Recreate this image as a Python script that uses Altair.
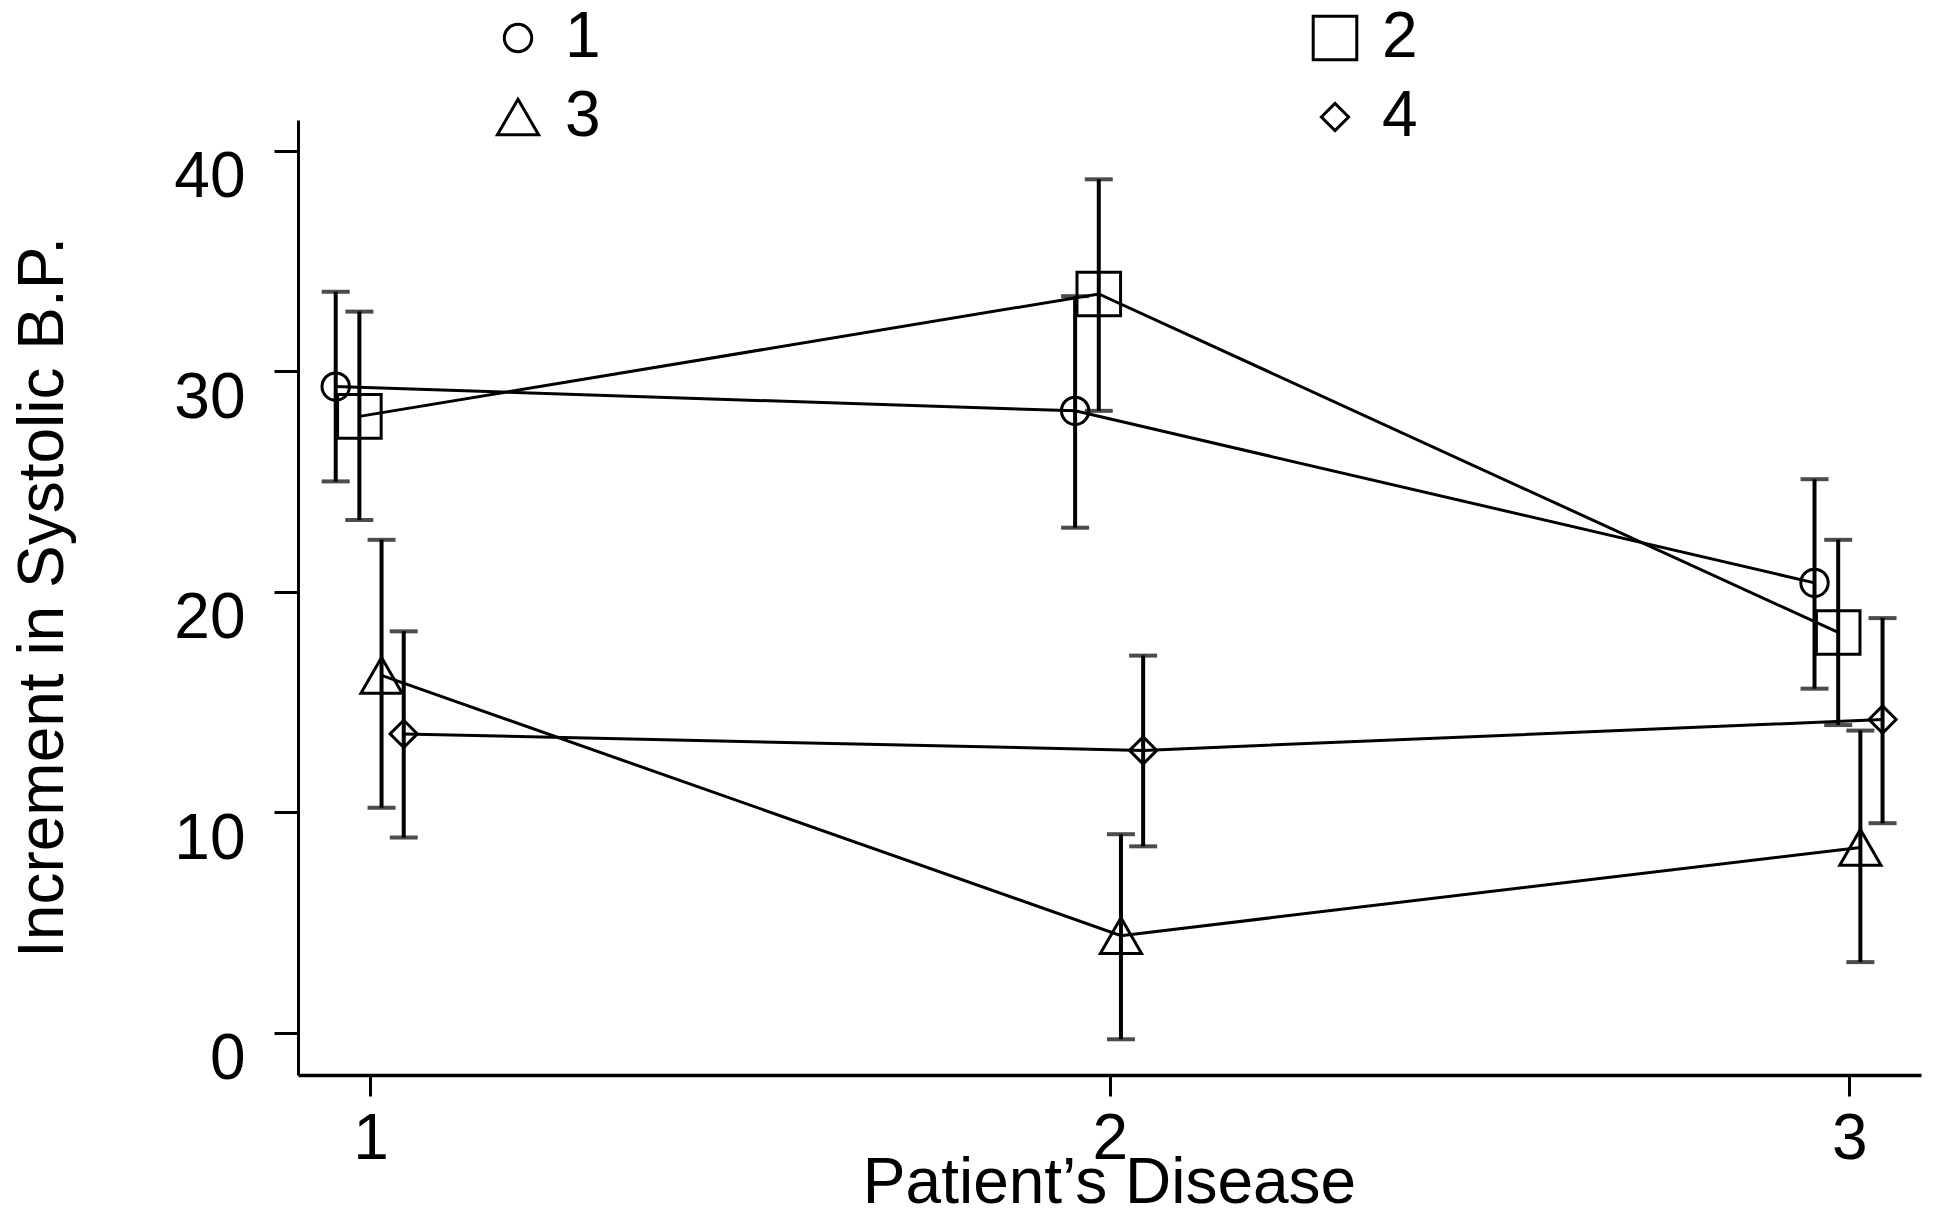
import altair as alt
import pandas as pd

# ---- data ----
groups = ["1", "2", "3", "4"]
legend_order = ["1", "3", "2", "4"]
disease = [1, 2, 3]
dodge = [-0.047, -0.015, 0.015, 0.045]

means = {
    "1": [29.3, 28.2, 20.4],
    "2": [27.95, 33.5, 18.15],
    "3": [16.2, 4.4, 8.4],
    "4": [13.55, 12.8, 14.2],
}
lows = {
    "1": [25.0, 22.9, 15.6],
    "2": [23.25, 28.2, 13.95],
    "3": [10.2, -0.3, 3.2],
    "4": [8.85, 8.45, 9.5],
}
highs = {
    "1": [33.6, 33.4, 25.1],
    "2": [32.7, 38.7, 22.35],
    "3": [22.35, 9.0, 13.7],
    "4": [18.2, 17.1, 18.8],
}
shape_of = {"1": "circle", "2": "square", "3": "triangle-up", "4": "diamond"}
size_of = {"1": 750, "2": 1900, "3": 1700, "4": 740}

y_ticks = [0, 10, 20, 30, 40]
x_ticks = [1, 2, 3]

rows = []
for gi, g in enumerate(groups):
    for di, d in enumerate(disease):
        rows.append({
            "group": g,
            "disease": d,
            "xpos": d + dodge[gi],
            "mean": means[g][di],
            "lo": lows[g][di],
            "hi": highs[g][di],
        })
df = pd.DataFrame(rows)

FONT = "Liberation Sans, Arial, Helvetica, sans-serif"

xscale = alt.Scale(domain=[0.902, 3.097], nice=False, zero=False)
yscale = alt.Scale(domain=[-1.92, 41.39], nice=False, zero=False)

xaxis = alt.Axis(
    values=x_ticks, format="d", tickSize=21, tickWidth=3, domainWidth=3.5,
    labelFontSize=64, labelPadding=11, labelBaseline="top",
    titleFontSize=64, titleX=811, titleY=127, titleBaseline="alphabetic",
    titleAlign="center",
)
yaxis = alt.Axis(
    values=y_ticks, format="d", tickSize=24, tickWidth=3, domainWidth=3,
    labelFontSize=64, labelPadding=29, labelBaseline="top", labelOffset=-5,
    titleFontSize=64, titleAngle=270, titleX=-236, titleY=477,
    titleBaseline="alphabetic", titleAlign="center",
)

XT = "Patient\u2019s Disease"
YT = "Increment in Systolic B.P."


def xenc():
    return alt.X("xpos:Q", scale=xscale, axis=xaxis, title=XT)


def yenc(field):
    return alt.Y(f"{field}:Q", scale=yscale, axis=yaxis, title=YT)


base = alt.Chart(df)

lines = base.mark_line(color="black", strokeWidth=3).encode(
    x=xenc(), y=yenc("mean"), detail="group:N"
)
bars = base.mark_rule(color="black", strokeWidth=4).encode(
    x=xenc(), y=yenc("lo"), y2="hi:Q"
)
cap_lo = base.mark_tick(orient="horizontal", size=28, thickness=4, color="black").encode(
    x=xenc(), y=yenc("lo")
)
cap_hi = base.mark_tick(orient="horizontal", size=28, thickness=4, color="black").encode(
    x=xenc(), y=yenc("hi")
)

legend = alt.Legend(
    title=None, orient="none", legendX=188, legendY=-114, columns=2,
    columnPadding=702, rowPadding=15, labelFont=FONT, labelFontSize=64,
    labelOffset=15, labelColor="black", symbolStrokeWidth=3,
    symbolStrokeColor="black", padding=0,
)

points = base.mark_point(filled=False, color="black", strokeWidth=3, opacity=1).encode(
    x=xenc(),
    y=yenc("mean"),
    shape=alt.Shape(
        "group:N",
        scale=alt.Scale(domain=legend_order, range=[shape_of[g] for g in legend_order]),
        legend=legend,
    ),
    size=alt.Size(
        "group:N",
        scale=alt.Scale(type="ordinal", domain=legend_order,
                        range=[size_of[g] for g in legend_order]),
        legend=legend,
    ),
)

chart = (
    alt.layer(lines, bars, cap_lo, cap_hi, points)
    .properties(
        width=1623,
        height=955,
        autosize=alt.AutoSizeParams(type="none"),
        padding={"left": 298, "top": 120, "right": 16, "bottom": 133},
        background="white",
    )
    .configure_view(stroke=None)
    .configure_axis(
        grid=False, domainColor="black", tickColor="black",
        labelColor="black", titleColor="black", labelFont=FONT, titleFont=FONT,
        titleFontWeight="normal",
    )
)

chart.save("out.html", embed_options={"renderer": "svg", "actions": False})
